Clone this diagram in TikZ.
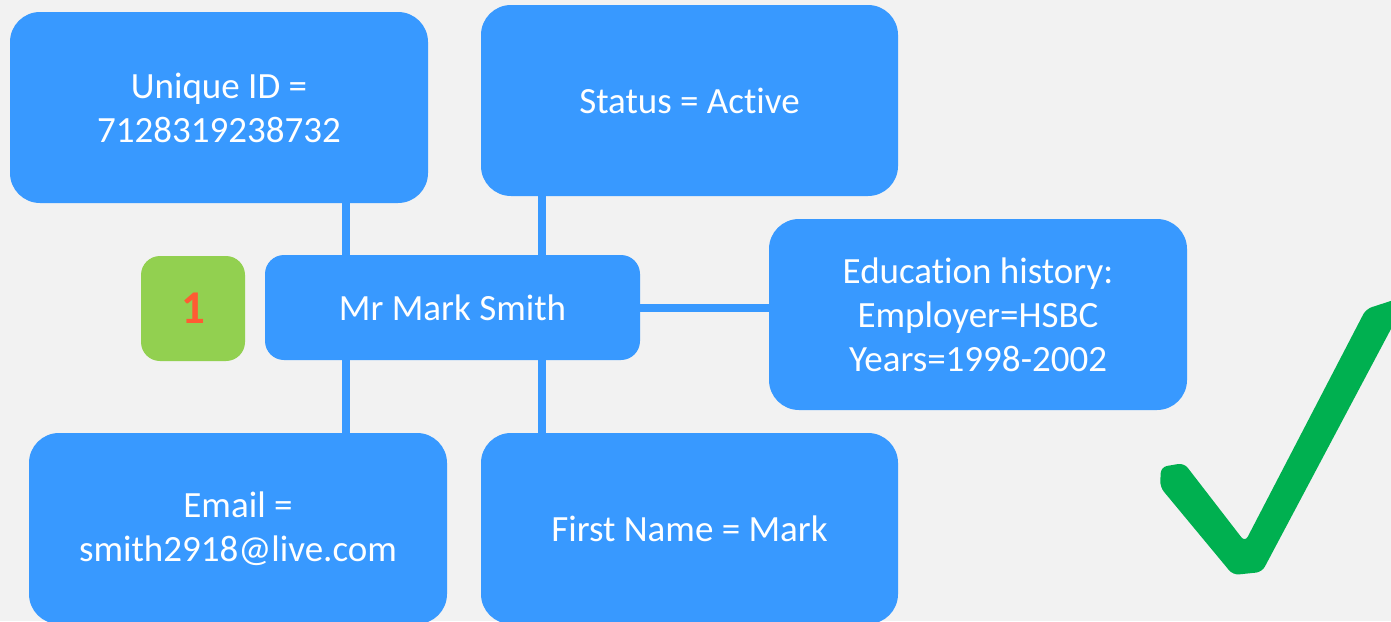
\documentclass[tikz,border=0pt]{standalone}
\usepackage{fontspec}
\setmainfont[Ligatures=NoCommon]{Carlito}
\definecolor{pageback}{HTML}{F2F2F2}
\definecolor{boxblue}{HTML}{3899FF}
\definecolor{boxgreen}{HTML}{92D050}
\definecolor{numred}{HTML}{FF5B33}
\definecolor{tickgreen}{HTML}{00B050}

\begin{document}
\begin{tikzpicture}[x=1pt,y=-1pt,
	field/.style={fill=boxblue,text=white,rounded corners=30pt,
		minimum width=418pt,minimum height=191pt,inner sep=0pt,
		align=center,font=\fontsize{37}{44}\selectfont},
	person/.style={field,rounded corners=19pt,minimum width=375pt,minimum height=105pt},
	badge/.style={fill=boxgreen,text=numred,rounded corners=19pt,
		minimum width=104pt,minimum height=105pt,inner sep=0pt,
		font=\fontsize{47}{50}\selectfont\bfseries},
	link/.style={draw=boxblue,line width=8pt}]
	% page and clipping
	\useasboundingbox (0,0) rectangle (1391,621);
	\fill[pageback] (0,0) rectangle (1391,621);
	\clip (0,0) rectangle (1391,621);

	% the record: one person, many fields
	\node[field] (uid) at (219,107.5) {Unique ID =\\7128319238732};
	\node[field,minimum width=417pt] (status) at (689.5,100.5) {Status = Active};
	\node[field] (edu) at (978,314.5) {Education history:\\Employer=HSBC\\Years=1998-2002};
	\node[person] (mark) at (452.5,307.5) {Mr Mark Smith};
	\node[badge] (one) at (193,308.5) {1};
	\node[field] (email) at (238,528.5) {Email =\\smith2918@live.com};
	\node[field,minimum width=417pt] (first) at (689.5,528.5) {First Name = Mark};

	% the two columns of links
	\coordinate (lcol) at (346,0);
	\coordinate (rcol) at (542,0);
	\draw[link] (uid.south -| lcol) -- (mark.north -| lcol);
	\draw[link] (status.south -| rcol) -- (mark.north -| rcol);
	\draw[link] (mark.south -| lcol) -- (email.north -| lcol);
	\draw[link] (mark.south -| rcol) -- (first.north -| rcol);
	\draw[link] (mark.east) -- (edu.west |- mark.east);

	% tick
	\fill[tickgreen,rounded corners=6pt] (1160,487) -- (1161,467) -- (1184,463)
		-- (1245,542) -- (1366,309) -- (1400,298) -- (1400,312)
		-- (1262,572) -- (1233,575) -- cycle;
\end{tikzpicture}
\end{document}
